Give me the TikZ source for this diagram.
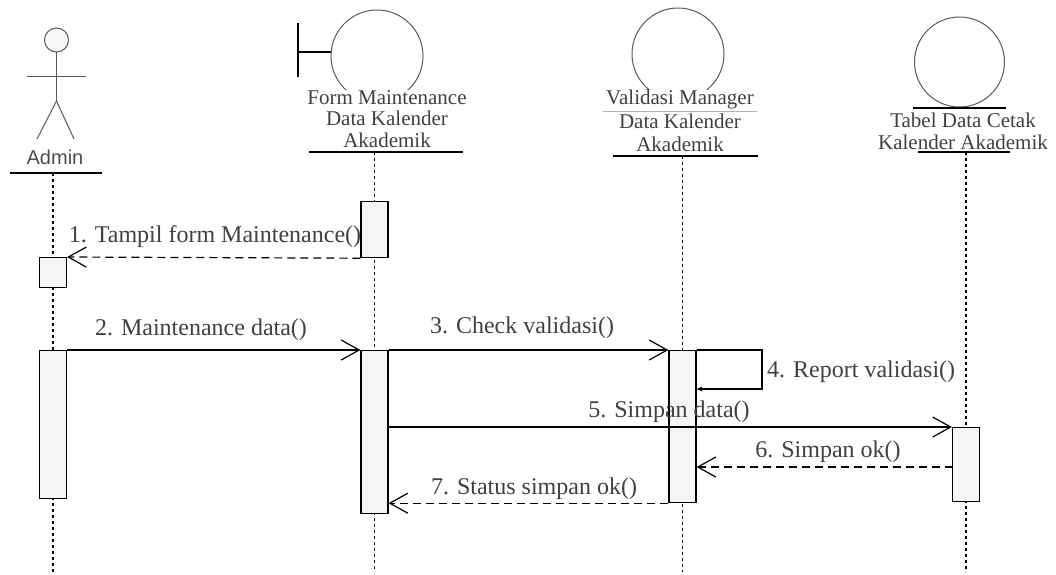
\documentclass[tikz,border=0pt]{standalone}
\usepackage{fontspec}
\setmainfont{Liberation Serif}
\setsansfont{Liberation Sans}
\usetikzlibrary{arrows.meta}
\begin{document}
\begin{tikzpicture}[x=1pt,y=-1pt,
  shapeline/.style={line width=1pt, draw=black!65},
  uline/.style={line width=1.3pt, black},
  life/.style={line width=1.2pt, dash pattern=on 3pt off 3pt},
  act/.style={draw, line width=1.2pt, fill=gray!8, minimum width=27pt, inner sep=0pt, anchor=north},
  msg/.style={line width=1.2pt, -{Straight Barb[length=18pt,width=20pt,line width=1.2pt]}},
  ret/.style={msg, dash pattern=on 8pt off 5pt},
  lbl/.style={font=\fontsize{24}{26}\selectfont, text=black!75, inner sep=0pt},
  hdr/.style={font=\fontsize{21}{22}\selectfont, text=black!75, align=center, inner sep=0pt, fill=white}
]
\useasboundingbox (0,0) rectangle (1056,574);

% ---- Admin actor
\draw[shapeline, fill=gray!5] (56.5,40) circle (12);
\draw[shapeline] (56.5,52) -- (56.5,101);
\draw[shapeline] (27,76) -- (86,76);
\draw[shapeline] (56.5,101) -- (37,139);
\draw[shapeline] (56.5,101) -- (74,139);
\node[font=\sffamily\fontsize{20}{22}\selectfont, text=black!70, inner sep=0pt] (admin) at (55,157) {Admin};
\draw[uline] (10,173) -- (102,173);
\coordinate (adminTop) at (53,173);
\coordinate (adminEnd) at (53,572);

% ---- Boundary: Form Maintenance
\draw[uline] (298,23) -- (298,77);
\draw[uline] (298,52) -- (331,52);
\draw[shapeline] (377,56) circle (46);
\node[hdr, font=\fontsize{21}{21.5}\selectfont] (form) at (387,119) {Form Maintenance\\Data Kalender\\Akademik};
\draw[uline] (309,152) -- (463,152);
\coordinate (formTop) at (374.5,152);
\coordinate (formEnd) at (374.5,572);

% ---- Control: Validasi Manager
\draw[shapeline] (678,54) circle (46);
\node[hdr, font=\fontsize{21}{23.5}\selectfont] (val) at (680,121) {Validasi Manager\\Data Kalender\\Akademik};
\draw[line width=0.6pt, gray!60] (603,111) -- (757,111);
\draw[uline] (613,156) -- (758,156);
\coordinate (valTop) at (682.5,156);
\coordinate (valEnd) at (682.5,572);

% ---- Entity: Tabel Data Cetak
\draw[shapeline] (959.5,62) circle (45);
\draw[uline] (913,108) -- (1006,108);
\node[hdr, font=\fontsize{21}{22}\selectfont] (ent) at (963,131) {Tabel Data Cetak\\Kalender Akademik};
\draw[uline] (918,152) -- (1010,152);
\coordinate (entTop) at (966,152);
\coordinate (entEnd) at (966,572);

% ---- Lifelines
\draw[life] (adminTop) -- (adminEnd);
\draw[life] (formTop) -- (formEnd);
\draw[life] (valTop) -- (valEnd);
\draw[life] (entTop) -- (entEnd);

% ---- Activations
\node[act, minimum height=56pt] (f1) at (374.5,201) {};
\node[act, minimum height=30pt] (a1) at (53,257) {};
\node[act, minimum height=148pt] (a2) at (53,350) {};
\node[act, minimum height=163pt] (f2) at (374.5,350) {};
\node[act, minimum height=152pt] (v1) at (682.5,350) {};
\node[act, minimum height=74pt] (e1) at (966,427) {};

% ---- Messages
\draw[ret] (f1.south west) -- (a1.north east);
\node[lbl] (m1) at (215,237) {1. Tampil form Maintenance()};

\draw[msg] (a2.north east) -- (f2.north west);
\node[lbl] (m2) at (201,330) {2. Maintenance data()};

\draw[msg] (f2.north east) -- (v1.north west);
\node[lbl] (m3) at (522,328) {3. Check validasi()};

\coordinate (s4a) at (762,350);
\coordinate (s4b) at (762,389);
\draw[line width=1.2pt, -{Stealth[length=6pt,width=5pt]}] (v1.north east) -- (s4a) -- (s4b) -- (v1.east |- s4b);
\node[lbl, anchor=west] (m4) at (767,372) {4. Report validasi()};

\draw[msg] (f2.east |- e1.north) -- (e1.north west);
\node[lbl] (m5) at (669,412) {5. Simpan data()};

\coordinate (r6) at (953,467);
\draw[ret] (r6) -- (v1.east |- r6);
\node[lbl] (m6) at (828,452) {6. Simpan ok()};

\draw[ret] (v1.south west) -- (f2.east |- v1.south);
\node[lbl] (m7) at (534,489) {7. Status simpan ok()};
\end{tikzpicture}
\end{document}
